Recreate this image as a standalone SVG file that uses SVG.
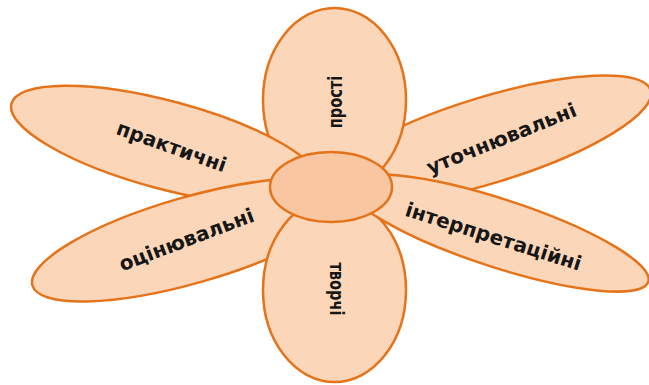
<svg xmlns="http://www.w3.org/2000/svg" width="649" height="385" viewBox="0 0 649 385">
<style>
.petal{fill:#FBD6B8;stroke:#E5731A;stroke-width:2.5}
.core{fill:#F8C6A0;stroke:#E5731A;stroke-width:2.5}
.lbl{font-family:"DejaVu Sans",sans-serif;font-weight:bold;font-size:20px;fill:#161616;text-anchor:middle}
</style>
<rect width="649" height="385" fill="#ffffff"/>
<g id="connectors"/>
<g id="petal-ur">
<ellipse class="petal" cx="488" cy="140" rx="170" ry="43" transform="rotate(-17 488 140)"/>
<text class="lbl" dy="0.27em" transform="translate(502 140) rotate(-21.8)">уточнювальні</text>
</g>
<g id="petal-top">
<ellipse class="petal" cx="334.5" cy="100" rx="71.5" ry="92"/>
<text class="lbl" dy="0.27em" transform="translate(337 102) scale(1 0.73) rotate(-90)">прості</text>
</g>
<g id="petal-ul">
<ellipse class="petal" cx="166" cy="145" rx="160" ry="44" transform="rotate(15 166 145)"/>
<text class="lbl" dy="0.27em" transform="translate(171 148) rotate(19.5)">практичні</text>
</g>
<g id="petal-ll">
<ellipse class="petal" cx="191" cy="240" rx="165" ry="43" transform="rotate(-16 191 240)"/>
<text class="lbl" dy="0.27em" transform="translate(187 241) rotate(-20.8)">оцінювальні</text>
</g>
<g id="petal-bottom">
<ellipse class="petal" cx="334.5" cy="290" rx="71.5" ry="92"/>
<text class="lbl" dy="0.27em" transform="translate(335 289) scale(1 0.73) rotate(90)">творчі</text>
</g>
<g id="petal-lr">
<ellipse class="petal" cx="498" cy="233" rx="158" ry="34" transform="rotate(18 498 233)"/>
<text class="lbl" dy="0.27em" transform="translate(493 238) rotate(17.6)">інтерпретаційні</text>
</g>
<g id="center">
<ellipse class="core" cx="331" cy="187" rx="61" ry="35"/>
</g>
</svg>
